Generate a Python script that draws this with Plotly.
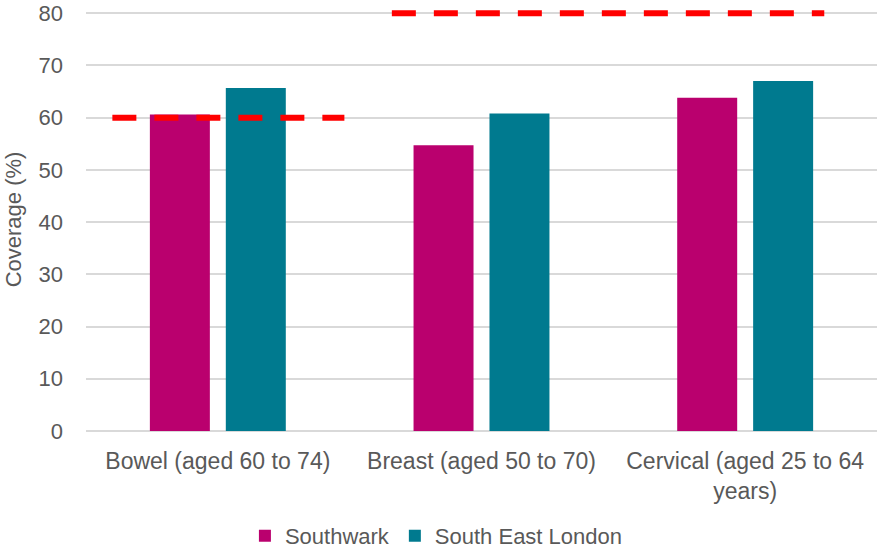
import plotly.graph_objects as go

categories = ["Bowel (aged 60 to 74)", "Breast (aged 50 to 70)", "Cervical (aged 25 to 64<br>years)"]
southwark = [60.6, 54.7, 63.8]
sel = [65.7, 60.8, 67.0]
targets = [60, 80, 80]
series_names = ["Southwark", "South East London"]
y_ticks = [0, 10, 20, 30, 40, 50, 60, 70, 80]

C_SW = "#BA006E"
C_SEL = "#007A8F"
FONT = "Liberation Sans, Arial, sans-serif"
TXT = "#595959"

fig = go.Figure()
fig.add_trace(go.Bar(x=categories, y=southwark, name=series_names[0],
                     marker=dict(color=C_SW, line=dict(width=0))))
fig.add_trace(go.Bar(x=categories, y=sel, name=series_names[1],
                     marker=dict(color=C_SEL, line=dict(width=0))))

# target lines (on a numeric overlay axis aligned with categories)
tx, ty = [], []
idx = list(range(len(categories)))
groups = []
for i, t in zip(idx, targets):
    if groups and groups[-1][2] == t and groups[-1][1] == i - 1:
        groups[-1][1] = i
    else:
        groups.append([i, i, t])
for g in groups:
    start = g[0] - 0.4 if g[0] == 0 else g[0] - 0.34
    end = g[1] + 0.48 if g[1] == 0 else g[1] + 0.3
    tx += [start, end, None]
    ty += [g[2], g[2], None]
fig.add_trace(go.Scatter(x=tx, y=ty, mode="lines", xaxis="x2", showlegend=False,
                         line=dict(color="#FF0000", width=6, dash="24px,18px"),
                         hoverinfo="skip"))

fig.update_layout(
    width=877, height=548,
    margin=dict(l=86, r=0, t=8, b=117, autoexpand=False),
    paper_bgcolor="white", plot_bgcolor="white",
    barmode="group", bargap=0.424, bargroupgap=0.21,
    font=dict(family=FONT, size=22, color=TXT),
    showlegend=True,
    legend=dict(orientation="h", x=0.443, xanchor="center", yref="container",
                y=0.022, yanchor="middle",
                font=dict(size=22, color=TXT), itemsizing="constant",
                traceorder="normal", itemwidth=30),
    xaxis=dict(showgrid=False, showline=False, ticks="", tickfont=dict(size=23, color=TXT),
               range=[-0.5, 2.5], ticklabelstandoff=14, automargin=False),
    xaxis2=dict(overlaying="x", range=[-0.5, 2.5], visible=False),
    yaxis=dict(range=[0, 81], tickvals=y_ticks, showgrid=True, gridcolor="#D9D9D9",
               gridwidth=1.5, zeroline=True, zerolinecolor="#D9D9D9", zerolinewidth=1.5,
               showline=False, ticks="", ticklabelstandoff=22, automargin=False,
               tickfont=dict(size=22, color=TXT),
               title=dict(text="Coverage (%)", font=dict(size=22, color=TXT), standoff=10)),
)

fig.write_html("out.html")
